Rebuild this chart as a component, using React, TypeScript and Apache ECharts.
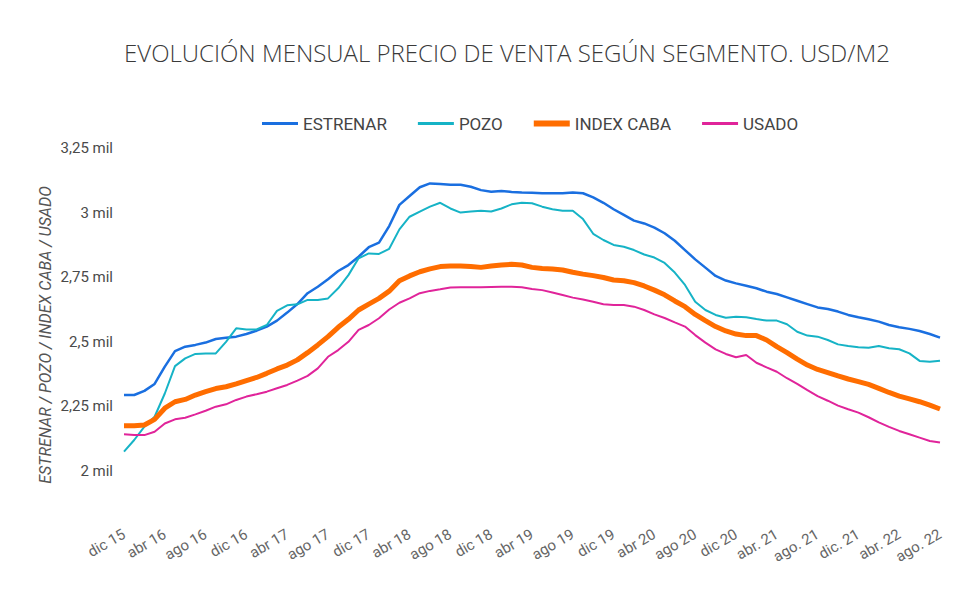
import React, { useEffect, useRef } from "react";
import * as echarts from "echarts";

const months: string[] = [
  "dic 15",
  "ene 16", "feb 16", "mar 16", "abr 16", "may 16", "jun 16", "jul 16", "ago 16", "sept 16", "oct 16", "nov 16", "dic 16",
  "ene 17", "feb 17", "mar 17", "abr 17", "may 17", "jun 17", "jul 17", "ago 17", "sept 17", "oct 17", "nov 17", "dic 17",
  "ene 18", "feb 18", "mar 18", "abr 18", "may 18", "jun 18", "jul 18", "ago 18", "sept 18", "oct 18", "nov 18", "dic 18",
  "ene 19", "feb 19", "mar 19", "abr 19", "may 19", "jun 19", "jul 19", "ago 19", "sept 19", "oct 19", "nov 19", "dic 19",
  "ene 20", "feb 20", "mar 20", "abr 20", "may 20", "jun 20", "jul 20", "ago 20", "sept 20", "oct 20", "nov 20", "dic 20",
  "ene. 21", "feb. 21", "mar. 21", "abr. 21", "may. 21", "jun. 21", "jul. 21", "ago. 21", "sept. 21", "oct. 21", "nov. 21", "dic. 21",
  "ene. 22", "feb. 22", "mar. 22", "abr. 22", "may. 22", "jun. 22", "jul. 22", "ago. 22",
];

const estrenar: number[] = [
  2294, 2294, 2310, 2337, 2404, 2464, 2481, 2488, 2497, 2511, 2516, 2520, 2530, 2543, 2559, 2582, 2613, 2646, 2688, 2713, 2742, 2774, 2797, 2829, 2866, 2884, 2948, 3030,
  3064, 3098, 3113, 3111, 3108, 3108, 3100, 3087, 3081, 3084, 3080, 3078, 3077, 3075, 3075, 3075, 3078, 3075, 3059, 3038, 3013, 2991, 2969, 2958, 2942, 2920, 2891,
  2855, 2819, 2787, 2755, 2737, 2726, 2717, 2707, 2694, 2685, 2672, 2659, 2646, 2633, 2627, 2617, 2604, 2595, 2587, 2578, 2565, 2556, 2550, 2542, 2530, 2516,
];

const pozo: number[] = [
  2075, 2120, 2172, 2210, 2300, 2406, 2436, 2453, 2455, 2455, 2500, 2552, 2548, 2548, 2565, 2620, 2641, 2645, 2662, 2662, 2668, 2707, 2758, 2823, 2842, 2840, 2860, 2935,
  2984, 3004, 3023, 3038, 3016, 3000, 3004, 3007, 3004, 3016, 3032, 3038, 3036, 3023, 3013, 3007, 3007, 2975, 2918, 2894, 2875, 2868, 2855, 2838, 2826, 2805, 2768,
  2720, 2655, 2623, 2604, 2593, 2597, 2595, 2588, 2582, 2582, 2568, 2539, 2524, 2520, 2507, 2490, 2484, 2479, 2477, 2484, 2475, 2471, 2455, 2426, 2423, 2427,
];

const indexCaba: number[] = [
  2175, 2175, 2178, 2200, 2243, 2268, 2277, 2294, 2307, 2319, 2326, 2337, 2350, 2362, 2378, 2395, 2410, 2430, 2458, 2488, 2520, 2556, 2587, 2623, 2646, 2668, 2696, 2736,
  2755, 2771, 2782, 2791, 2793, 2793, 2791, 2788, 2793, 2797, 2800, 2797, 2788, 2784, 2782, 2778, 2769, 2762, 2756, 2749, 2739, 2736, 2729, 2716, 2700, 2682, 2658,
  2636, 2606, 2582, 2559, 2542, 2530, 2524, 2524, 2507, 2481, 2458, 2433, 2410, 2393, 2381, 2368, 2356, 2346, 2335, 2320, 2304, 2290, 2279, 2268, 2255, 2240,
];

const usado: number[] = [
  2142, 2139, 2139, 2152, 2184, 2200, 2206, 2219, 2233, 2249, 2258, 2275, 2288, 2297, 2307, 2320, 2333, 2350, 2368, 2397, 2442, 2468, 2500, 2546, 2565, 2591, 2625, 2651,
  2668, 2688, 2697, 2703, 2710, 2711, 2711, 2711, 2712, 2713, 2713, 2711, 2704, 2700, 2691, 2681, 2671, 2664, 2655, 2645, 2642, 2642, 2636, 2623, 2606, 2592, 2575,
  2559, 2526, 2497, 2471, 2453, 2440, 2449, 2419, 2401, 2384, 2359, 2337, 2313, 2290, 2272, 2253, 2239, 2226, 2208, 2188, 2171, 2155, 2142, 2129, 2116, 2110,
];

const seriesNames = ["ESTRENAR", "POZO", "INDEX CABA", "USADO"];
const seriesColors = ["#1a6fe0", "#16b3c6", "#ff6d00", "#e0249a"];
const seriesWidths = [2.5, 2, 5, 2];

const FONT = "Roboto, 'Noto Sans', sans-serif";

// Plain bar icons for the legend: thin for the segments, thick for the index.
const THIN_ICON = "path://M0 0h36v3H0z";
const THICK_ICON = "path://M0 0h36v6H0z";

function formatMil(v: number): string {
  const s = String(v / 1000).replace(".", ",");
  return `${s} mil`;
}

export default function App() {
  const ref = useRef<HTMLDivElement>(null);

  useEffect(() => {
    if (!ref.current) return;
    const chart = echarts.init(ref.current, undefined, { renderer: "svg" });
    const data = [estrenar, pozo, indexCaba, usado];
    chart.setOption({
      animation: false,
      backgroundColor: "#ffffff",
      title: {
        text: "EVOLUCIÓN MENSUAL PRECIO DE VENTA SEGÚN SEGMENTO. USD/M2",
        left: 502,
        textAlign: "center",
        top: 35,
        textStyle: {
          fontFamily: "'Open Sans', sans-serif",
          fontSize: 24,
          fontWeight: 300,
          color: "#3a3a3a",
        },
      },
      legend: {
        top: 110,
        left: 257,
        itemWidth: 36,
        itemHeight: 14,
        itemGap: 31,
        textStyle: { fontFamily: FONT, fontSize: 17, color: "#444" },
        data: seriesNames.map((name, k) => ({
          name,
          icon: k === 2 ? THICK_ICON : THIN_ICON,
        })),
      },
      graphic: [
        {
          type: "text",
          x: 37,
          y: 335,
          rotation: Math.PI / 2,
          style: {
            text: "ESTRENAR / POZO / INDEX CABA / USADO",
            fontFamily: FONT,
            fontSize: 16,
            fontStyle: "italic",
            fill: "#555",
            align: "center",
            verticalAlign: "top",
          },
        },
      ],
      grid: { left: 124, right: 39, top: 148, bottom: 121 },
      xAxis: {
        type: "category",
        data: months,
        boundaryGap: false,
        axisLine: { show: false },
        axisTick: { show: false },
        splitLine: { show: false },
        axisLabel: {
          interval: 3,
          rotate: 30,
          margin: 62,
          fontFamily: FONT,
          fontSize: 15,
          color: "#666",
        },
      },
      yAxis: {
        type: "value",
        min: 2000,
        max: 3250,
        interval: 250,
        axisLine: { show: false },
        axisTick: { show: false },
        splitLine: { show: false },
        axisLabel: {
          margin: 11,
          fontFamily: FONT,
          fontSize: 15,
          color: "#4a4a4a",
          formatter: (v: number) => formatMil(v),
        },
      },
      series: seriesNames.map((name, k) => ({
        name,
        type: "line",
        data: data[k],
        symbol: "none",
        smooth: false,
        color: seriesColors[k],
        lineStyle: { width: seriesWidths[k], color: seriesColors[k] },
        z: k === 2 ? 3 : 2,
      })),
    });
    return () => chart.dispose();
  }, []);

  return (
    <div
      ref={ref}
      style={{ position: "fixed", left: 0, top: 0, width: 979, height: 592, background: "#fff" }}
    />
  );
}
